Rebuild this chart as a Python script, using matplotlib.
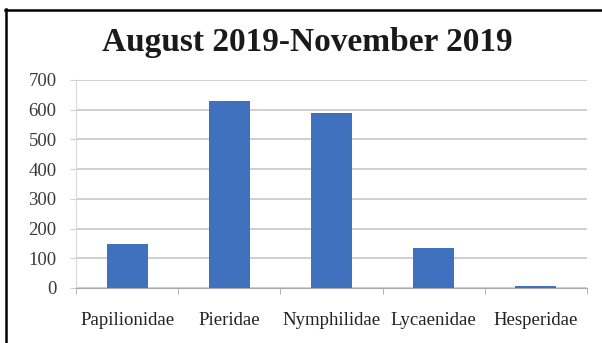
import matplotlib
matplotlib.use("Agg")
import matplotlib.pyplot as plt
from matplotlib.lines import Line2D

families = ["Papilionidae", "Pieridae", "Nymphilidae", "Lycaenidae", "Hesperidae"]
counts = [148, 630, 590, 133, 6]
yticks = [0, 100, 200, 300, 400, 500, 600, 700]
title = "August 2019-November 2019"

plt.rcParams["font.family"] = ["Liberation Serif", "DejaVu Serif"]

fig = plt.figure(figsize=(6.02, 3.43), dpi=100)
ax = fig.add_axes([76 / 602, 1 - 288 / 343, (587 - 76) / 602, (288 - 80) / 343])

x = list(range(len(families)))
ax.bar(x, counts, width=0.4, color="#3f71bf", zorder=3)
ax.set_xlim(-0.5, len(families) - 0.5)
ax.set_ylim(0, 700)
ax.set_yticks(yticks)
ax.set_yticklabels([str(v) for v in yticks], fontsize=13.5, color="#3a3a3a")
ax.set_xticks(x)
ax.set_xticklabels(families, fontsize=13.5, color="#222222")
ax.tick_params(axis="y", length=4, color="#d0d0d0", pad=10)
ax.tick_params(axis="x", length=0, pad=17)
# category boundary ticks on the baseline
ax.set_xticks([i - 0.5 for i in range(len(families) + 1)], minor=True)
ax.tick_params(axis="x", which="minor", length=4, color="#aaaaaa", direction="out")
ax.grid(axis="y", color="#d0d0d0", linewidth=1.4, zorder=0)
for s in ["top", "right"]:
    ax.spines[s].set_visible(False)
ax.spines["left"].set_color("#d8d8d8")
ax.spines["bottom"].set_color("#aaaaaa")

fig.text(307 / 602, 1 - 43 / 343, title, ha="center", va="center",
         fontsize=24, fontweight="bold", color="#1a1a1a")

# frame lines along the top and left edges
fig.add_artist(Line2D([5 / 602, 1], [1 - 10 / 343, 1 - 10 / 343],
                      transform=fig.transFigure, color="black", linewidth=1.8))
fig.add_artist(Line2D([6 / 602, 6 / 602], [0, 1 - 9 / 343],
                      transform=fig.transFigure, color="black", linewidth=1.8))

fig.savefig("out.png", dpi=100)
